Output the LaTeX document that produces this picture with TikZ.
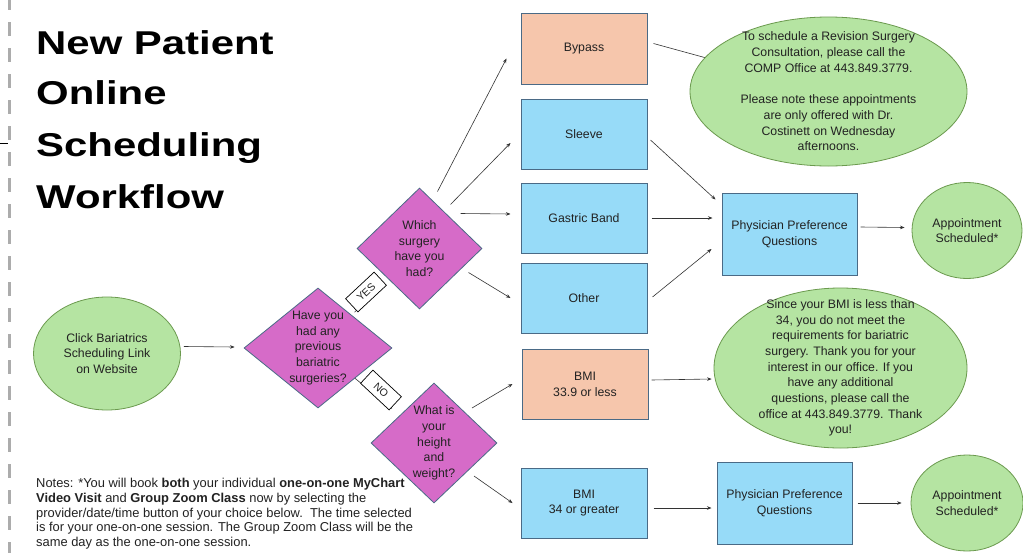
\documentclass[tikz,border=0pt]{standalone}
\usepackage{fontspec}
\setmainfont{Liberation Sans}
\newfontfamily\titlefont[FakeStretch=1.27]{Liberation Sans}
\usetikzlibrary{shapes.geometric,arrows.meta,calc}
\definecolor{peach}{HTML}{F6C6AC}
\definecolor{sky}{HTML}{97DBF8}
\definecolor{leaf}{HTML}{B5E4A2}
\definecolor{leafline}{HTML}{6B9A4E}
\definecolor{magentafill}{HTML}{D66BC8}
\definecolor{slate}{HTML}{4A6A86}
\definecolor{ink}{HTML}{222222}
\definecolor{wire}{HTML}{333333}
\begin{document}
\begin{tikzpicture}[x=1pt,y=-1pt,
  font=\fontsize{12.3}{15.7}\selectfont,
  every node/.style={text=ink},
  txt/.style={align=center, inner sep=0pt},
  ell/.style={ellipse, draw=leafline, fill=leaf, line width=0.8pt, inner sep=0pt, align=center},
  dia/.style={diamond, draw=slate, fill=magentafill, line width=0.8pt, inner sep=0pt},
  box/.style={rectangle, draw=slate, line width=1pt, inner sep=0pt, align=center, minimum width=126pt, minimum height=70pt},
  ppqbox/.style={box, fill=sky, minimum width=135pt, minimum height=82pt},
  lab/.style={draw=black, fill=white, line width=0.7pt, font=\fontsize{10.5}{12}\selectfont, minimum width=39pt, minimum height=18pt, inner sep=0pt},
  arr/.style={draw=wire, line width=0.6pt, -{Stealth[length=4.5pt,width=3.5pt]}},
  plain/.style={draw=wire, line width=0.6pt},
  titlestyle/.style={anchor=base west, inner sep=0pt, text=black, font=\titlefont\bfseries\fontsize{33}{40}\selectfont}
]
\useasboundingbox (0,0) rectangle (1023,552);
\fill[white] (0,0) rectangle (1023,552);

% left dashed rule and tick
\draw[gray!65, line width=3.5pt, dash pattern=on 14pt off 12pt] (9.5,-4) -- (9.5,556);
\draw[black, line width=0.9pt] (0,143) -- (8,143);

% title
\node[titlestyle] (t1) at (36,54) {New Patient};
\node[titlestyle] (t2) at (36,104) {Online};
\node[titlestyle] (t3) at (36,156) {Scheduling};
\node[titlestyle] (t4) at (36,208) {Workflow};

% start
\node[ell, minimum width=147pt, minimum height=113pt] (start) at (107,353.5) {Click Bariatrics\\Scheduling Link\\on Website};

% diamonds
\node[dia, minimum width=148pt, minimum height=120pt, label={[txt]center:{Have you\\had any\\previous\\bariatric\\surgeries?}}] (d1) at (318,348) {};
\node[dia, minimum width=125pt, minimum height=121pt, label={[txt]center:{Which\\surgery\\have you\\had?}}] (d2) at (419.5,248.5) {};
\node[dia, minimum width=126pt, minimum height=120pt, label={[txt]center:{What is\\your\\height\\and\\weight?}}] (d3) at (434,443) {};

% notes (on top of the diamond corner)
\node[anchor=north west, align=left, inner sep=0pt, font=\fontsize{12.9}{14.8}\selectfont] (notes) at (36,478) {Notes: *You will book \textbf{both} your individual \textbf{one-on-one MyChart}\\\textbf{Video Visit} and \textbf{Group Zoom Class} now by selecting the\\provider/date/time button of your choice below.\ \ The time selected\\is for your one-on-one session. The Group Zoom Class will be the\\same day as the one-on-one session.};

% surgery boxes
\node[box, fill=peach, minimum height=71pt] (bypass) at (584,48.5) {Bypass};
\node[box, fill=sky] (sleeve) at (584,134) {Sleeve};
\node[box, fill=sky] (gastric) at (584,218) {Gastric Band};
\node[box, fill=sky] (other) at (584,298) {Other};
\node[box, fill=peach] (bmi1) at (585,384) {BMI\\33.9 or less};
\node[box, fill=sky] (bmi2) at (584,503) {BMI\\34 or greater};

% physician preference
\node[ppqbox] (ppq) at (789.5,234) {Physician Preference\\Questions};
\node[ppqbox] (ppq2) at (784.5,503) {Physician Preference\\Questions};

% connector whose end is hidden by the ellipse
\draw[plain] ($(bypass.east)+(6,-5)$) -- (828.5,91.5);

% ellipses on the right
\node[ell, minimum width=277pt, minimum height=149pt, label={[txt]center:{To schedule a Revision Surgery\\Consultation, please call the\\COMP Office at 443.849.3779.\\[15.7pt]Please note these appointments\\are only offered with Dr.\\Costinett on Wednesday\\afternoons.}}] (rev) at (828.5,91.5) {};
\node[ell, minimum width=253pt, minimum height=160pt, label={[txt]center:{Since your BMI is less than\\34, you do not meet the\\requirements for bariatric\\surgery. Thank you for your\\interest in our office. If you\\have any additional\\questions, please call the\\office at 443.849.3779. Thank\\you!}}] (bmiell) at (840.5,368) {};
\node[ell, minimum width=110pt, minimum height=96pt] (appt1) at (967,230.5) {Appointment\\Scheduled*};
\node[ell, minimum width=112pt, minimum height=96pt] (appt2) at (967,503) {Appointment\\Scheduled*};

% YES / NO
\draw[arr, shorten <=4pt, shorten >=12pt] (d1) -- (d2);
\draw[arr, shorten >=10pt] (d1) -- (d3);
\node[lab, rotate=43] (yes) at (366,292) {YES};
\node[lab, rotate=-43] (no) at (381,390) {NO};

% connectors
\draw[arr] ($(start.east)+(3,-7)$) -- ($(d1.west)+(-9,-1)$);
\draw[arr] ($(d2)+(18,-57)$) -- ($(bypass.west)+(-14,10)$);
\draw[arr] ($(d2)+(31,-44)$) -- ($(sleeve.west)+(-10,9)$);
\draw[arr] ($(d2)+(41,-35)$) -- ($(gastric.west)+(-10,-4)$);
\draw[arr] ($(d2)+(49,24)$) -- ($(other.west)+(-10,0)$);

\draw[arr] ($(sleeve.east)+(3,6)$) -- ($(ppq.north west)+(-6,7)$);
\draw[arr] ($(gastric.east)+(4,0)$) -- ($(ppq.west)+(-9,-16)$);
\draw[arr] ($(other.east)+(5,-1)$) -- ($(ppq.west)+(-10,15)$);
\draw[arr] ($(ppq.east)+(3,-7)$) -- ($(appt1.west)+(-7,-3)$);

\draw[arr] ($(d3)+(38,-35)$) -- ($(bmi1.west)+(-9,0)$);
\draw[arr] ($(d3)+(40,33)$) -- ($(bmi2.west)+(-8,0)$);
\draw[arr] ($(bmi1.east)+(3,-4)$) -- ($(bmiell.west)+(-2,11)$);
\draw[arr] ($(bmi2.east)+(6,5)$) -- ($(ppq2.west)+(-5,5)$);
\draw[arr] ($(ppq2.east)+(5,0)$) -- ($(appt2.west)+(-9,0)$);
\end{tikzpicture}
\end{document}
